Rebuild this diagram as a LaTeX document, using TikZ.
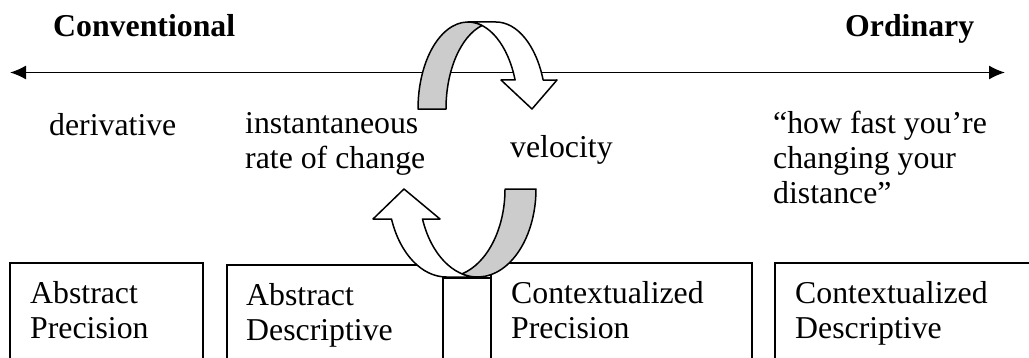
\documentclass[tikz,border=0pt]{standalone}
\usepackage{fontspec}
\setmainfont{Liberation Serif}
\usetikzlibrary{arrows.meta}
\newcommand{\AxTip}{Latex[length=16,width=14]}
\tikzset{txt/.style={inner sep=0pt,anchor=base west,align=left,font=\fontsize{31.8}{35}\selectfont}}
\tikzset{hd/.style={txt,font=\fontsize{31.8}{35}\selectfont\bfseries}}
\tikzset{pane/.style={draw,line width=1.5pt,anchor=north west,inner sep=0pt,minimum height=140}}
\tikzset{band/.style={draw,line width=1.5pt,line join=round}}
\begin{document}
\begin{tikzpicture}[x=1pt,y=1pt]
\useasboundingbox(0,0)rectangle(1029,357);\clip(0,0)rectangle(1029,357);
\coordinate(al)at(10,284.5);\coordinate(ar)at(1005,284.5);
\draw[line width=1.5pt,{\AxTip}-{\AxTip}](al)--(ar);
\node(cv)[hd]at(53,320){Conventional};\node(od)[hd]at(845,320){Ordinary};
% base of a text block = its last line
\begin{scope}[every node/.style={txt}]
\node(dv)at(49,222){derivative};\node(ir)at(245,189){instantaneous\\rate of change};
\node(vl)at(510,200){velocity};\node(hf)at(773,154){“how fast you’re\\changing your\\distance”};
\end{scope}
% boxes along the bottom
\node(ap)[pane,minimum width=193]at(9,95){};\node(ad)[pane,minimum width=216]at(226,93){};
\node(sb)[pane,minimum width=48]at(442,80){};
\node(cp)[pane,minimum width=261]at(490,95){};\node(cd)[pane,minimum width=300]at(774,95){};
\begin{scope}[every node/.style={txt}]
\node(apt)at(30,19){Abstract\\Precision};\node(adt)at(246,17){Abstract\\Descriptive};
\node(cpt)at(511,19){Contextualized\\Precision};\node(cdt)at(795,19){Contextualized\\Descriptive};
\end{scope}
% upper turning arrow
\draw[band,fill=white](468,335)--(496,335)arc[start angle=90,end angle=19.47,x radius=50,y radius=87]--(557,277)--(532,248)--(501,277)--(515.1,277)arc[start angle=19.47,end angle=90,x radius=50,y radius=87]--cycle;
\draw[band,fill=gray!40](418,248)arc[start angle=180,end angle=73.74,x radius=50,y radius=87]arc[start angle=106.26,end angle=180,x radius=50,y radius=87]--cycle;
% lower turning arrow
\draw[band,fill=white](477.5,80)--(446.5,80)arc[start angle=270,end angle=199.94,x radius=58.5,y radius=88]--(373,138)--(404,168)--(440,138)--(422.5,138)arc[start angle=199.94,end angle=270,x radius=58.5,y radius=88]--cycle;
\draw[band,fill=gray!40](536,168)arc[start angle=0,end angle=-105.36,x radius=58.5,y radius=88]arc[start angle=-74.64,end angle=0,x radius=58.5,y radius=88]--cycle;
\end{tikzpicture}
\end{document}
